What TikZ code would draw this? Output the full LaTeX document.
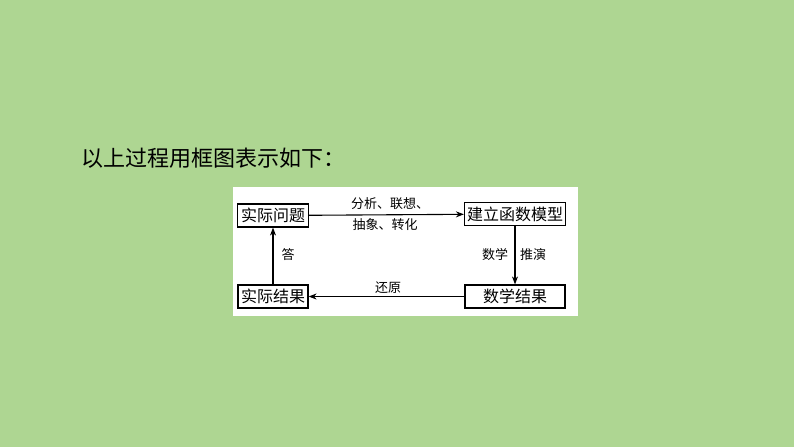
\documentclass[tikz,border=0pt]{standalone}
\usepackage{fontspec}
\newfontfamily\cjk{Noto Sans CJK SC}
\usetikzlibrary{arrows.meta}
\definecolor{bggreen}{RGB}{174,214,146}
\begin{document}
\begin{tikzpicture}[x=1pt,y=-1pt,thick,
  stepbox/.style={draw,rectangle,line width=1.2pt,inner sep=0pt,minimum height=23pt,font=\cjk\fontsize{16}{16}\selectfont},
  steplabel/.style={font=\cjk\fontsize{13}{13}\selectfont,inner sep=1pt},
  flow/.style={line width=1.1pt,-{Stealth[length=8pt,width=6pt]}}]
\fill[bggreen] (0,0) rectangle (794,447);
\useasboundingbox (0,0) rectangle (794,447);
\node[anchor=west,inner sep=0pt,font=\cjk\fontsize{22}{22}\selectfont] (title) at (81,158) {以上过程用框图表示如下：};
\fill[white] (233,187) rectangle (578,316);
\node[stepbox,minimum width=71pt] (problem)at(273,215.5) {实际问题};
\node[stepbox,minimum width=101pt] (model)at(515,214) {建立函数模型};
\node[stepbox,minimum width=100pt] (mresult)at(515,296.5) {数学结果};
\node[stepbox,minimum width=70pt] (aresult)at(273,296.5) {实际结果};
\draw[flow] (problem) -- (model);
\draw[flow] (model) -- (mresult);
\draw[flow] (mresult) -- (aresult);
\draw[flow] (aresult) -- (problem);
\node[steplabel] (l1)at(390,204) {分析、联想、};
\node[steplabel] (l2)at(385,225) {抽象、转化};
\node[steplabel] (l3)at(495,255) {数学};
\node[steplabel] (l4)at(533,255) {推演};
\node[steplabel] (l5)at(388,288) {还原};
\node[steplabel] (l6)at(288,255) {答};
\end{tikzpicture}
\end{document}
